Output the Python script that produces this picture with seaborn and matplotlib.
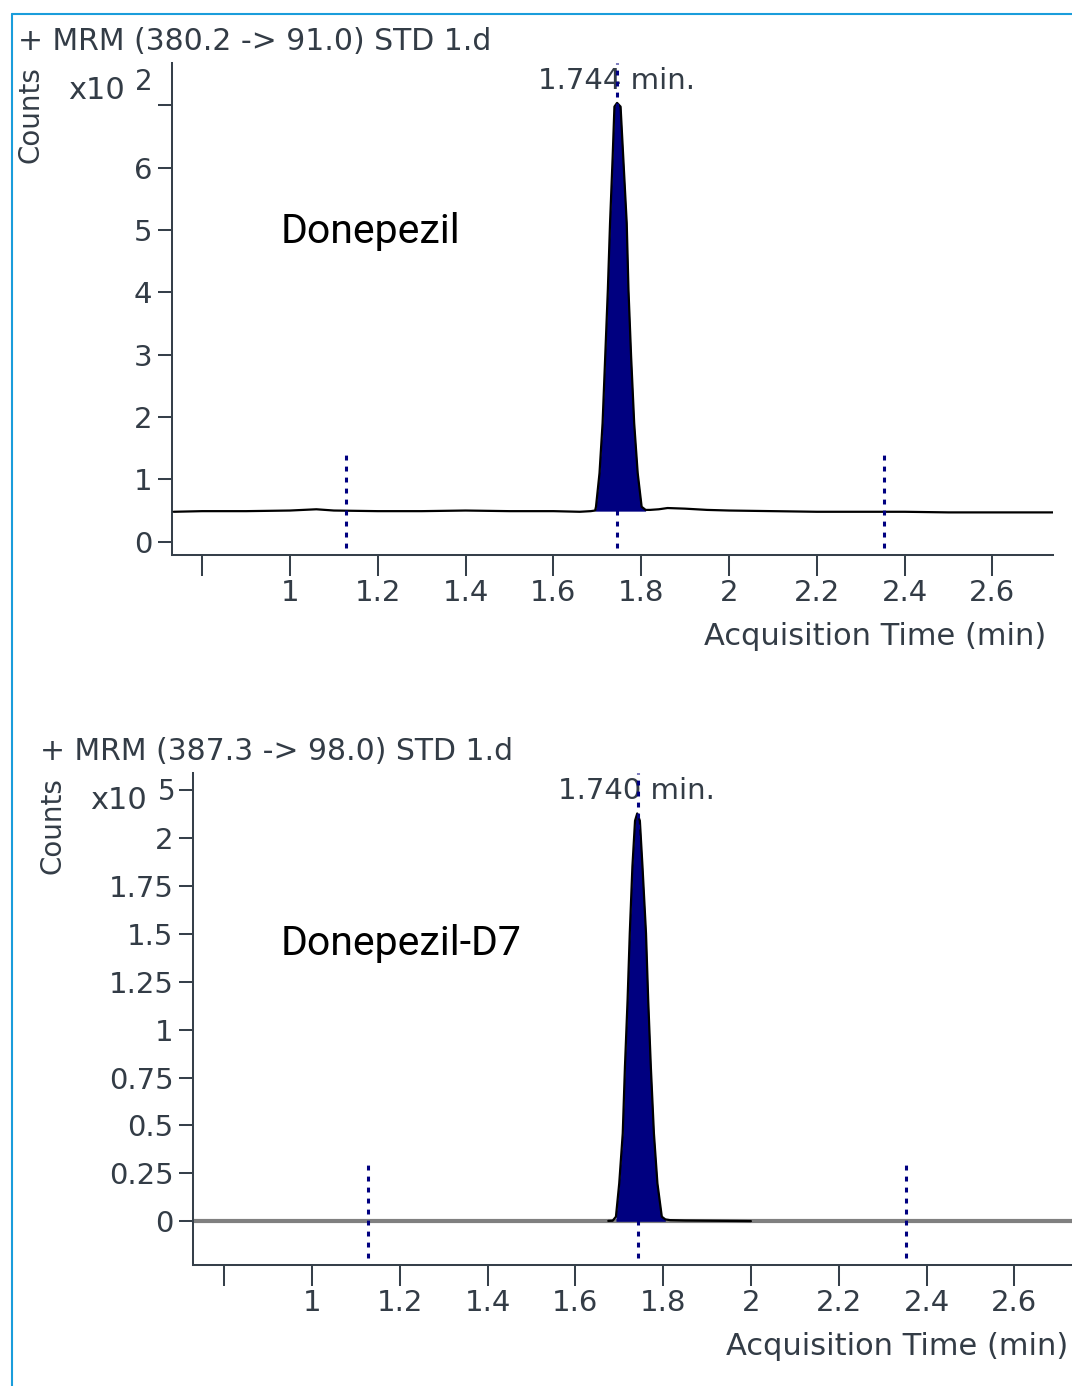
import numpy as np
import seaborn as sns
import matplotlib.pyplot as plt
from matplotlib.lines import Line2D

# ==============================================================================
# DATA
# ==============================================================================

# Donepezil, MRM 380.2 -> 91.0 (counts x10^2)
time_d = [0.735, 0.80, 0.90, 1.00, 1.06, 1.10, 1.20, 1.30, 1.40, 1.50, 1.60,
          1.66, 1.685, 1.695, 1.697, 1.705, 1.712, 1.718, 1.724, 1.729, 1.735,
          1.739, 1.745, 1.753, 1.759, 1.767, 1.771, 1.777, 1.784, 1.792, 1.801,
          1.81, 1.82, 1.84, 1.86, 1.90, 1.95, 2.00, 2.10, 2.20, 2.30, 2.40,
          2.50, 2.60, 2.738]
counts_d = [0.48, 0.49, 0.49, 0.50, 0.52, 0.50, 0.49, 0.49, 0.50, 0.49, 0.49,
            0.48, 0.49, 0.50, 0.56, 1.10, 1.90, 2.97, 4.04, 5.11, 6.18,
            6.98, 7.04, 6.98, 6.18, 5.11, 4.04, 2.97, 1.90, 1.10, 0.56,
            0.51, 0.51, 0.52, 0.54, 0.53, 0.51, 0.50, 0.49, 0.48, 0.48, 0.48,
            0.47, 0.47, 0.47]
peak_d = (1.695, 1.81)
base_d = 0.49
markers_d = [1.128, 1.745, 2.354]
rt_d = 1.744

# Donepezil-D7, MRM 387.3 -> 98.0 (counts x10^5)
time_d7 = [1.675, 1.685, 1.6925, 1.700, 1.708, 1.713, 1.719, 1.724, 1.730,
           1.736, 1.741, 1.747, 1.753, 1.761, 1.766, 1.772, 1.779, 1.787,
           1.797, 1.805, 1.816, 1.85, 1.90, 1.95, 2.00]
counts_d7 = [0.002, 0.003, 0.024, 0.198, 0.459, 0.806, 1.154, 1.502, 1.85,
             2.09, 2.128, 2.09, 1.85, 1.502, 1.154, 0.806, 0.459, 0.198,
             0.024, 0.010, 0.006, 0.004, 0.003, 0.002, 0.001]
peak_d7 = (1.6925, 1.805)
base_d7 = 0.0
markers_d7 = [1.128, 1.742, 2.353]
rt_d7 = 1.740

x_ticks = [0.8, 1.0, 1.2, 1.4, 1.6, 1.8, 2.0, 2.2, 2.4, 2.6]
x_labels = ["", "1", "1.2", "1.4", "1.6", "1.8", "2", "2.2", "2.4", "2.6"]

y_ticks_d = [0, 1, 2, 3, 4, 5, 6, 7]
y_labels_d = ["0", "1", "2", "3", "4", "5", "6", ""]

y_ticks_d7 = [0, 0.25, 0.5, 0.75, 1.0, 1.25, 1.5, 1.75, 2.0, 2.25]
y_labels_d7 = ["0", "0.25", "0.5", "0.75", "1", "1.25", "1.5", "1.75", "2", ""]

# ==============================================================================
# STYLE
# ==============================================================================

W, H = 1072, 1386
NAVY = "#000080"
AXC = "#36404a"
TXT = "#333c46"

sns.set_style("ticks")
plt.rcParams["font.family"] = ["DejaVu Sans"]


def fx(px):
    return px / W


def fy(py):
    return 1 - py / H


def draw_panel(fig, rect, t, c, peak, base, markers, rt, xlim, ylim,
               yticks, ylabels, grey_base=False):
    ax = fig.add_axes(rect)
    t = np.array(t)
    c = np.array(c)

    if grey_base:
        ax.axhline(base, color="#808080", lw=3, zorder=1.5)

    sel = (t >= peak[0]) & (t <= peak[1])
    ax.fill_between(t[sel], c[sel], base, color=NAVY, lw=0, zorder=2)
    sns.lineplot(x=t, y=c, ax=ax, color="black", lw=1.6, estimator=None,
                 zorder=3)

    for i, m in enumerate(markers):
        top = 1.0 if i == 1 else 0.205
        ax.axvline(m, ymin=0.014, ymax=top, color=NAVY, lw=2.2,
                   ls=(0, (1.6, 2.0)), zorder=5)

    ax.text(rt, 0.947, f"{rt:.3f} min.", transform=ax.get_xaxis_transform(),
            ha="center", va="baseline", fontsize=21, color=TXT, zorder=4)

    ax.set_xlim(*xlim)
    ax.set_ylim(*ylim)
    ax.set_xticks(x_ticks, x_labels)
    ax.set_yticks(yticks, ylabels)
    ax.tick_params(axis="x", length=15, width=1.45, color=AXC, pad=2,
                   labelsize=21, labelcolor=TXT)
    ax.tick_params(axis="y", length=10, width=1.45, color=AXC, pad=4,
                   labelsize=21, labelcolor=TXT)
    sns.despine(ax=ax)
    for s in ("left", "bottom"):
        ax.spines[s].set_color(AXC)
        ax.spines[s].set_linewidth(1.45)
    ax.set_xlabel("")
    ax.set_ylabel("")
    return ax


fig = plt.figure(figsize=(W / 100, H / 100), dpi=100)

# top panel
draw_panel(fig, [fx(172), fy(555), fx(881), 492 / H], time_d, counts_d,
           peak_d, base_d, markers_d, rt_d, (0.7312, 2.738), (-0.2135, 7.68),
           y_ticks_d, y_labels_d)

# bottom panel
draw_panel(fig, [fx(193), fy(1265), fx(881), 492 / H], time_d7, counts_d7,
           peak_d7, base_d7, markers_d7, rt_d7, (0.729, 2.736),
           (-0.228, 2.339), y_ticks_d7, y_labels_d7, grey_base=True)

# texts
fig.text(fx(18), fy(50), "+ MRM (380.2 -> 91.0) STD 1.d", fontsize=21.5,
         color=TXT, va="baseline")
fig.text(fx(40), fy(760), "+ MRM (387.3 -> 98.0) STD 1.d", fontsize=21.5,
         color=TXT, va="baseline")

fig.text(fx(31), fy(115), "Counts", rotation=90, fontsize=20, color=TXT,
         ha="center", va="center")
fig.text(fx(52), fy(826), "Counts", rotation=90, fontsize=20, color=TXT,
         ha="center", va="center")

fig.text(fx(68), fy(99), "x10", fontsize=22, color=TXT, va="baseline")
fig.text(fx(135), fy(90), "2", fontsize=20, color=TXT, va="baseline")
fig.text(fx(90), fy(809), "x10", fontsize=22, color=TXT, va="baseline")
fig.text(fx(158), fy(800), "5", fontsize=20, color=TXT, va="baseline")

fig.text(fx(1046), fy(645), "Acquisition Time (min)", fontsize=22, color=TXT,
         ha="right", va="baseline")
fig.text(fx(1068), fy(1355), "Acquisition Time (min)", fontsize=22, color=TXT,
         ha="right", va="baseline")

fig.text(fx(281), fy(243), "Donepezil", fontsize=29.5, family="Roboto",
         color="black", va="baseline")
fig.text(fx(281), fy(955), "Donepezil-D7", fontsize=29.5, family="Roboto",
         color="black", va="baseline")

# frame
BORDER = "#1a9ddb"
fig.add_artist(Line2D([fx(12), 1.0], [fy(14), fy(14)], color=BORDER, lw=1.5))
fig.add_artist(Line2D([fx(12), fx(12)], [fy(14), 0.0], color=BORDER, lw=1.5))

fig.savefig("out.png", dpi=100)
